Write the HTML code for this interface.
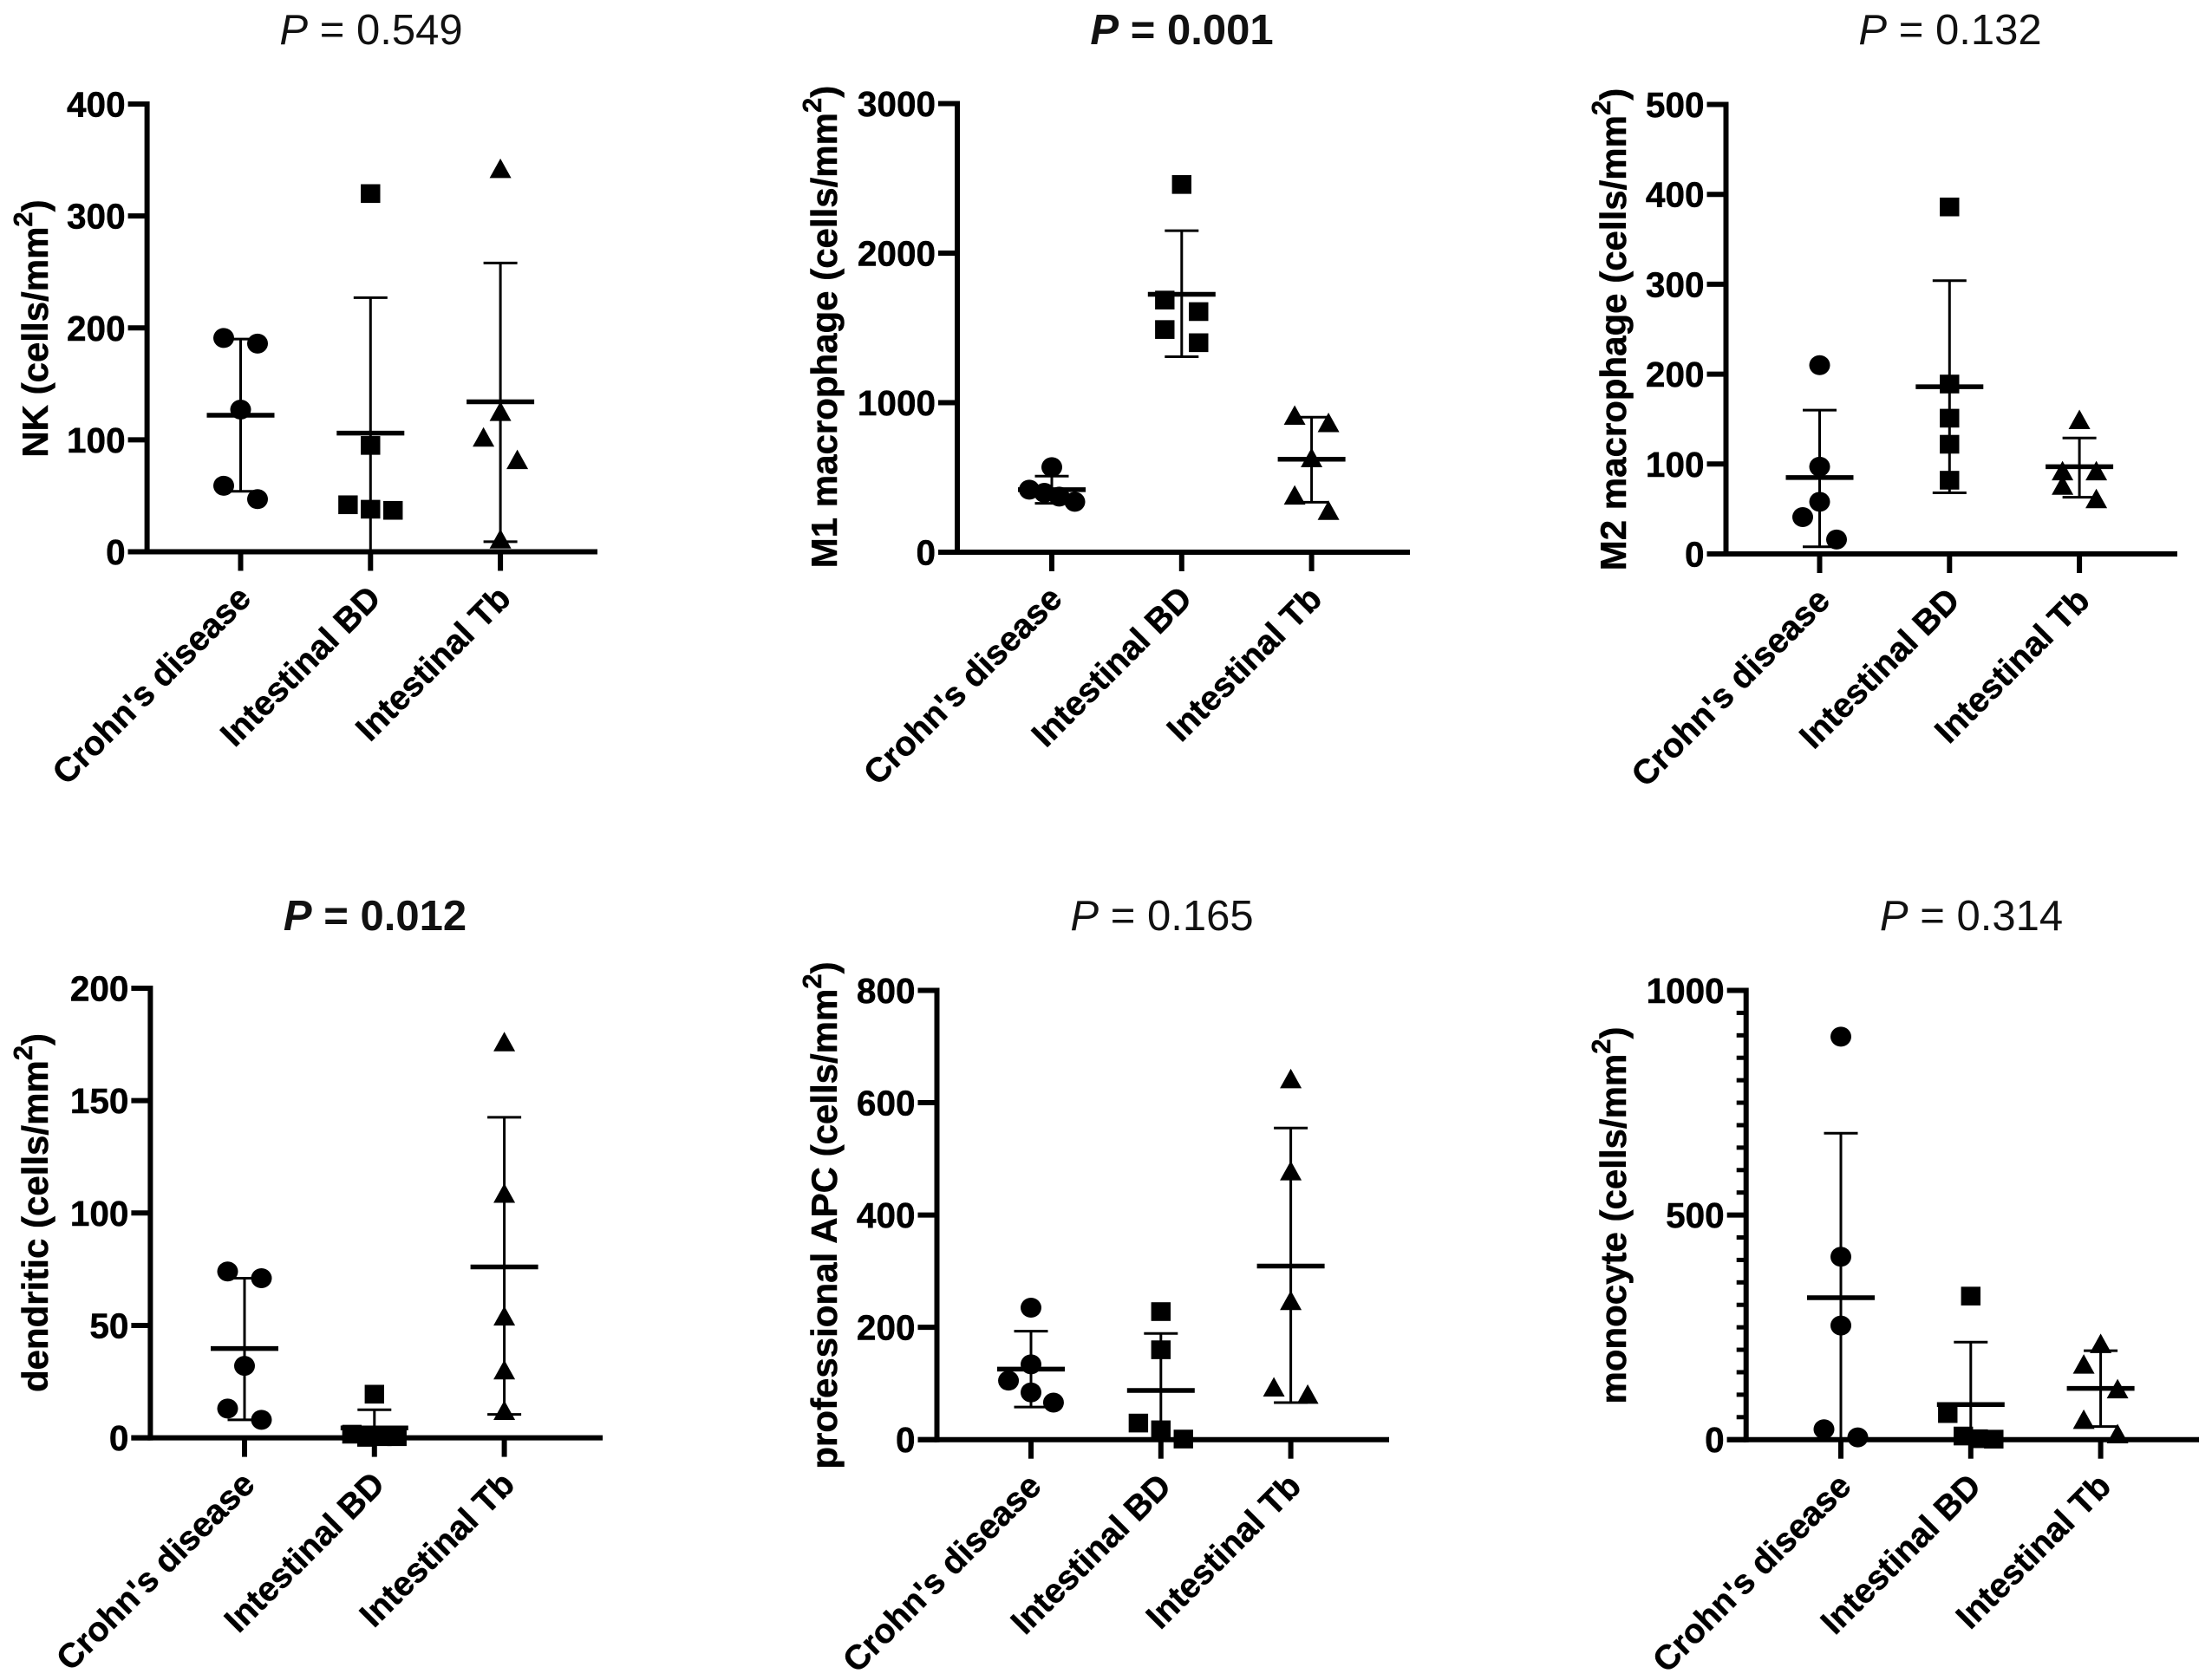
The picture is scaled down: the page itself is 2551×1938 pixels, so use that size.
<!DOCTYPE html>
<html lang="en">
<head>
<meta charset="utf-8">
<title>Immune cell densities by diagnosis</title>
<style>
html,body{margin:0;padding:0;background:#fff;}
svg{display:block;font-family:"Liberation Sans",sans-serif;}
.title{font-size:49px;text-anchor:middle;fill:#111;}
.title-bold{font-weight:bold;}
.ytitle{font-size:42px;font-weight:bold;text-anchor:middle;fill:#000;stroke:#000;stroke-width:.5;}
.tick{font-size:40.5px;font-weight:bold;text-anchor:end;fill:#000;stroke:#000;stroke-width:.5;}
.cat{font-size:39.5px;font-weight:bold;text-anchor:end;fill:#000;stroke:#000;stroke-width:.5;}
</style>
</head>
<body>
<svg id="figure" xmlns="http://www.w3.org/2000/svg" width="2551" height="1938" viewBox="0 0 2551 1938">
  <rect width="2551" height="1938" fill="#fff"/>

  <g id="panel-nk">
    <text class="title" x="428" y="51"><tspan font-style="italic">P</tspan> = 0.549</text>
    <text class="ytitle" transform="translate(55 379) rotate(-90)">NK (cells/mm<tspan dy="-18" font-size="31">2</tspan><tspan dy="18">)</tspan></text>
  </g>
  <g id="panel-m1">
    <text class="title title-bold" x="1363" y="51"><tspan font-style="italic">P</tspan> = 0.001</text>
    <text class="ytitle" transform="translate(965 377) rotate(-90)">M1 macrophage (cells/mm<tspan dy="-18" font-size="31">2</tspan><tspan dy="18">)</tspan></text>
  </g>
  <g id="panel-m2">
    <text class="title" x="2249" y="51"><tspan font-style="italic">P</tspan> = 0.132</text>
    <text class="ytitle" transform="translate(1875 380) rotate(-90)">M2 macrophage (cells/mm<tspan dy="-18" font-size="31">2</tspan><tspan dy="18">)</tspan></text>
  </g>
  <g id="panel-dc">
    <text class="title title-bold" x="432.5" y="1073"><tspan font-style="italic">P</tspan> = 0.012</text>
    <text class="ytitle" transform="translate(55 1399) rotate(-90)">dendritic (cells/mm<tspan dy="-18" font-size="31">2</tspan><tspan dy="18">)</tspan></text>
  </g>
  <g id="panel-apc">
    <text class="title" x="1340" y="1073"><tspan font-style="italic">P</tspan> = 0.165</text>
    <text class="ytitle" transform="translate(965 1402) rotate(-90)">professional APC (cells/mm<tspan dy="-18" font-size="31">2</tspan><tspan dy="18">)</tspan></text>
  </g>
  <g id="panel-mono">
    <text class="title" x="2273.5" y="1073"><tspan font-style="italic">P</tspan> = 0.314</text>
    <text class="ytitle" transform="translate(1875 1402) rotate(-90)">monocyte (cells/mm<tspan dy="-18" font-size="31">2</tspan><tspan dy="18">)</tspan></text>
  </g>
</svg>

<script>
const categories = ["Crohn's disease", "Intestinal BD", "Intestinal Tb"];

/* NK */
const nkTicks = [0, 100, 200, 300, 400];
const nkCrohn = [191, 186, 127, 59, 47];
const nkBD = [320, 95, 42, 38, 37];
const nkTb = [342, 125, 102, 82, 11];
const nkMean = [122, 106, 134];
const nkUpper = [190, 227, 258];
const nkLower = [54, 0, 9];
const nkSwarmCrohn = [-1, 1, 0, -1, 1];
const nkSwarmBD = [0, 0, -1.33, 0, 1.33];
const nkSwarmTb = [0, 0, -1, 1, 0];

/* M1 macrophage */
const m1Ticks = [0, 1000, 2000, 3000];
const m1Crohn = [569, 418, 397, 372, 337];
const m1BD = [2459, 1686, 1609, 1489, 1401];
const m1Tb = [913, 864, 629, 379, 277];
const m1Mean = [418, 1725, 622];
const m1Upper = [509, 2150, 903];
const m1Lower = [327, 1307, 334];
const m1SwarmCrohn = [0, -1.33, -0.44, 0.44, 1.36];
const m1SwarmBD = [0, -1, 1, -1, 1];
const m1SwarmTb = [-1, 1, 0, -1, 1];

/* M2 macrophage */
const m2Ticks = [0, 100, 200, 300, 400, 500];
const m2Crohn = [210, 97, 58, 41, 16];
const m2BD = [386, 189, 151, 122, 82];
const m2Tb = [149, 92, 92, 76, 61];
const m2Mean = [85, 186, 97];
const m2Upper = [160, 304, 129];
const m2Lower = [8, 68, 63];
const m2SwarmCrohn = [0, 0, 0, -1, 1];
const m2SwarmBD = [0, 0, 0, 0, 0];
const m2SwarmTb = [0, -1, 1, -1, 1];

/* Dendritic */
const dcTicks = [0, 50, 100, 150, 200];
const dcCrohn = [74, 71, 32, 13, 8];
const dcBD = [19.4, 1.6, 0.2, 0.5, 0.5];
const dcTb = [176, 108.6, 54, 30, 12];
const dcMean = [39.7, 4.4, 76];
const dcUpper = [71, 12.5, 142.6];
const dcLower = [8, 0, 10.4];
const dcSwarmCrohn = [-1, 1, 0, -1, 1];
const dcSwarmBD = [0, -1.33, -0.44, 0.44, 1.33];
const dcSwarmTb = [0, 0, 0, 0, 0];

/* Professional APC */
const apcTicks = [0, 200, 400, 600, 800];
const apcCrohn = [235, 134, 105, 84, 66];
const apcBD = [228, 160, 29.5, 17.5, 1];
const apcTb = [642, 478, 247, 93, 80];
const apcMean = [125.5, 87.6, 309];
const apcUpper = [193, 189, 555];
const apcLower = [58, 0, 66];
const apcSwarmCrohn = [0, 0, -1.33, 0, 1.33];
const apcSwarmBD = [0, 0, -1.33, 0, 1.33];
const apcSwarmTb = [0, 0, 0, -1, 1];

/* Monocyte */
const monoTicks = [0, 500, 1000];
const monoMinorTicks = [50, 100, 150, 200, 250, 300, 350, 400, 450, 550, 600, 650, 700, 750, 800, 850, 900, 950];
const monoCrohn = [897, 407, 254, 23, 5];
const monoBD = [319.5, 58, 8, 2, 1];
const monoTb = [213, 167, 112, 44, 12];
const monoMean = [316, 78, 114];
const monoUpper = [682, 217, 198];
const monoLower = [0, 0, 29];
const monoSwarmCrohn = [0, 0, 0, -1, 1];
const monoSwarmBD = [0, -1.36, -0.44, 0.44, 1.36];
const monoSwarmTb = [0, -1, 1, -1, 1];

const SVG_NS = 'http://www.w3.org/2000/svg';
const CAT_STEP = 149.8, SWARM_STEP = 19.5, TICK_LEN = 22;
const AXIS_W = 6, ERR_W = 3, MEAN_W = 5.5;
const MEAN_HALF = 39, CAP_HALF = 19.5;
const MARK_KINDS = ['circle', 'square', 'triangle'];

function make(parent, tag, attrs) {
  const el = document.createElementNS(SVG_NS, tag);
  for (const k in attrs) el.setAttribute(k, attrs[k]);
  parent.appendChild(el);
  return el;
}

function drawPanel(cfg) {
  const root = document.getElementById(cfg.id);
  const yMax = cfg.ticks[cfg.ticks.length - 1];
  const yScale = v => cfg.y0 + (cfg.yTop - cfg.y0) * v / yMax;
  const xScale = i => cfg.c0 + CAT_STEP * i;
  const line = (x1, y1, x2, y2, w, name) => {
    const el = make(root, 'line', {x1, y1, x2, y2, stroke: '#000', 'stroke-width': w});
    
    
    return el;
  };

  /* series: error bars first, then points, then mean */
  cfg.series.forEach((vals, i) => {
    const cx = xScale(i);
    const catName = ['crohns', 'bd', 'tb'][i];
    line(cx, yScale(cfg.upper[i]), cx, yScale(cfg.lower[i]), ERR_W, cfg.key + '-' + catName + '-error-stem');
    line(cx - CAP_HALF, yScale(cfg.upper[i]), cx + CAP_HALF, yScale(cfg.upper[i]), ERR_W, cfg.key + '-' + catName + '-error-cap-upper');
    line(cx - CAP_HALF, yScale(cfg.lower[i]), cx + CAP_HALF, yScale(cfg.lower[i]), ERR_W, cfg.key + '-' + catName + '-error-cap-lower');

    vals.forEach((v, j) => {
      const px = cx + cfg.swarm[i][j] * SWARM_STEP;
      const py = yScale(v);
      const kind = MARK_KINDS[i];
      let m;
      if (kind === 'circle') {
        m = make(root, 'ellipse', {cx: px, cy: py, rx: 12, ry: 11.5, fill: '#000'});
      } else if (kind === 'square') {
        m = make(root, 'rect', {x: px - 11.2, y: py - 10.8, width: 22.4, height: 21.6, fill: '#000'});
      } else {
        m = make(root, 'polygon', {points: (px) + ',' + (py - 12) + ' ' + (px + 12.5) + ',' + (py + 10.5) + ' ' + (px - 12.5) + ',' + (py + 10.5), fill: '#000'});
      }
      
      
    });
    line(cx - MEAN_HALF, yScale(cfg.mean[i]), cx + MEAN_HALF, yScale(cfg.mean[i]), MEAN_W, cfg.key + '-' + catName + '-mean-line');
  });

  /* axes on top */
  line(cfg.ax, cfg.yTop - AXIS_W / 2, cfg.ax, cfg.y0 + AXIS_W / 2, AXIS_W, cfg.key + '-y-axis');
  line(cfg.ax - TICK_LEN, cfg.y0, cfg.xEnd, cfg.y0, AXIS_W, cfg.key + '-x-axis');

  cfg.ticks.forEach(t => {
    line(cfg.ax - TICK_LEN, yScale(t), cfg.ax, yScale(t), AXIS_W, cfg.key + '-y-tick-' + t);
    const lab = make(root, 'text', {class: 'tick', x: cfg.ax - TICK_LEN - 3, y: yScale(t) + 14.5});
    lab.textContent = String(t);
    
    
  });
  (cfg.minor || []).forEach(t => {
    line(cfg.ax - TICK_LEN / 2, yScale(t), cfg.ax, yScale(t), AXIS_W - 1, cfg.key + '-y-minor-tick-' + t);
  });

  categories.forEach((c, i) => {
    const cx = xScale(i);
    line(cx, cfg.y0, cx, cfg.y0 + TICK_LEN, AXIS_W, cfg.key + '-x-tick-' + (i + 1));
    const ax = cx + 14, ay = cfg.y0 + 56;
    const lab = make(root, 'text', {class: 'cat', x: ax, y: ay, transform: 'rotate(-45 ' + ax + ' ' + ay + ')'});
    lab.textContent = c;
    
    
  });
}

drawPanel({id: 'panel-nk', key: 'nk', ax: 169.6, y0: 636.5, yTop: 120, xEnd: 689, c0: 277.5,
  ticks: nkTicks, series: [nkCrohn, nkBD, nkTb], mean: nkMean, upper: nkUpper, lower: nkLower,
  swarm: [nkSwarmCrohn, nkSwarmBD, nkSwarmTb]});
drawPanel({id: 'panel-m1', key: 'm1', ax: 1104, y0: 637, yTop: 119.5, xEnd: 1626, c0: 1213,
  ticks: m1Ticks, series: [m1Crohn, m1BD, m1Tb], mean: m1Mean, upper: m1Upper, lower: m1Lower,
  swarm: [m1SwarmCrohn, m1SwarmBD, m1SwarmTb]});
drawPanel({id: 'panel-m2', key: 'm2', ax: 1990.5, y0: 639, yTop: 120.5, xEnd: 2511, c0: 2098.5,
  ticks: m2Ticks, series: [m2Crohn, m2BD, m2Tb], mean: m2Mean, upper: m2Upper, lower: m2Lower,
  swarm: [m2SwarmCrohn, m2SwarmBD, m2SwarmTb]});
drawPanel({id: 'panel-dc', key: 'dendritic', ax: 173.4, y0: 1658.6, yTop: 1140, xEnd: 695, c0: 282,
  ticks: dcTicks, series: [dcCrohn, dcBD, dcTb], mean: dcMean, upper: dcUpper, lower: dcLower,
  swarm: [dcSwarmCrohn, dcSwarmBD, dcSwarmTb]});
drawPanel({id: 'panel-apc', key: 'apc', ax: 1080.5, y0: 1660.7, yTop: 1142.5, xEnd: 1602, c0: 1189,
  ticks: apcTicks, series: [apcCrohn, apcBD, apcTb], mean: apcMean, upper: apcUpper, lower: apcLower,
  swarm: [apcSwarmCrohn, apcSwarmBD, apcSwarmTb]});
drawPanel({id: 'panel-mono', key: 'monocyte', ax: 2013.7, y0: 1660.7, yTop: 1142.5, xEnd: 2536, c0: 2123,
  ticks: monoTicks, minor: monoMinorTicks, series: [monoCrohn, monoBD, monoTb], mean: monoMean, upper: monoUpper, lower: monoLower,
  swarm: [monoSwarmCrohn, monoSwarmBD, monoSwarmTb]});
</script>
</body>
</html>
